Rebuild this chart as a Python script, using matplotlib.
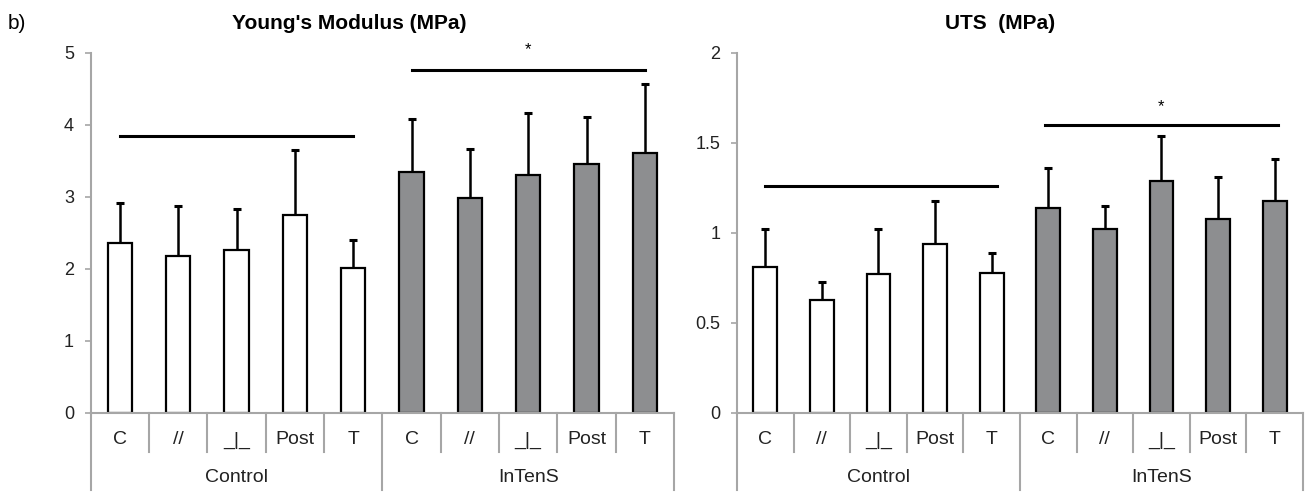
import matplotlib.pyplot as plt
import numpy as np

plt.rcParams['font.family'] = ['Liberation Sans', 'DejaVu Sans']

# data
groups = ['Control', 'InTenS']
cats = ['C', '//', '_|_', 'Post', 'T']

ym_control = [2.36, 2.18, 2.26, 2.75, 2.02]
ym_control_sd = [0.56, 0.70, 0.58, 0.90, 0.38]
ym_intens = [3.35, 2.99, 3.31, 3.46, 3.61]
ym_intens_sd = [0.74, 0.68, 0.85, 0.65, 0.96]

uts_control = [0.81, 0.63, 0.77, 0.94, 0.78]
uts_control_sd = [0.21, 0.10, 0.25, 0.24, 0.11]
uts_intens = [1.14, 1.02, 1.29, 1.08, 1.18]
uts_intens_sd = [0.22, 0.13, 0.25, 0.23, 0.23]

# significance bars: (x start, x end, y)
ym_sig = [(0, 4, 3.85), (5, 9, 4.77)]
ym_star = 5.05
uts_sig = [(0, 4.1, 1.26), (4.95, 9.05, 1.60)]
uts_star = 1.70

grey_fill = '#8d8e90'
axis_grey = '#a6a6a6'


def draw_panel(ax, ctrl, ctrl_sd, intens, intens_sd, sig, star_y, ymax, yticks, ylabels):
    x = np.arange(10)
    vals = ctrl + intens
    sds = ctrl_sd + intens_sd
    colors = ['white'] * 5 + [grey_fill] * 5
    ax.bar(x, vals, width=0.42, color=colors, edgecolor='black', linewidth=1.6, zorder=2)
    eb = ax.errorbar(x, vals, yerr=[np.zeros(10), sds], fmt='none', ecolor='black',
                     elinewidth=1.8, capsize=3, capthick=2.2, zorder=3)
    # only the upper cap
    eb[1][0].set_visible(False)

    for x0, x1, y in sig:
        ax.plot([x0, x1], [y, y], color='black', lw=2.2, clip_on=False, zorder=4)
    x0, x1, y = sig[1]
    ax.text((x0 + x1) / 2, star_y, '*', ha='center', va='center', fontsize=12, clip_on=False)

    ax.set_xlim(-0.5, 9.5)
    ax.set_ylim(0, ymax)
    ax.set_yticks(yticks)
    ax.set_yticklabels(ylabels, fontsize=13, color='#222222')
    ax.tick_params(axis='y', direction='out', length=4, width=1.2, color=axis_grey, pad=8)
    ax.set_xticks([])

    for s in ['top', 'right']:
        ax.spines[s].set_visible(False)
    ax.spines['left'].set_color(axis_grey)
    ax.spines['bottom'].set_color(axis_grey)
    ax.spines['left'].set_linewidth(1.5)
    ax.spines['bottom'].set_linewidth(1.5)

    # multi-level category axis like excel
    trans = ax.get_xaxis_transform()
    for i in range(10):
        ax.text(i, -0.075, cats[i % 5], transform=trans, ha='center', va='center',
                fontsize=14, color='#222222')
    for b in [0.5, 1.5, 2.5, 3.5, 5.5, 6.5, 7.5, 8.5]:
        ax.plot([b, b], [0, -0.108], transform=trans, color=axis_grey, lw=1.5, clip_on=False)
    for b in [-0.5, 4.5, 9.5]:
        ax.plot([b, b], [0, -0.215], transform=trans, color=axis_grey, lw=1.5, clip_on=False)
    for g, name in enumerate(groups):
        ax.text(2 + 5 * g, -0.18, name, transform=trans, ha='center', va='center',
                fontsize=14, color='#222222')


fig = plt.figure(figsize=(13.09, 4.92), dpi=100)
ax1 = fig.add_axes([0.0693, 0.1606, 0.4456, 0.7317])
ax2 = fig.add_axes([0.5630, 0.1606, 0.4324, 0.7317])

draw_panel(ax1, ym_control, ym_control_sd, ym_intens, ym_intens_sd, ym_sig, ym_star,
           5, [0, 1, 2, 3, 4, 5], ['0', '1', '2', '3', '4', '5'])
draw_panel(ax2, uts_control, uts_control_sd, uts_intens, uts_intens_sd, uts_sig, uts_star,
           2, [0, 0.5, 1, 1.5, 2], ['0', '0.5', '1', '1.5', '2'])

fig.text(0.267, 0.953, "Young's Modulus (MPa)", fontsize=15, fontweight='bold',
         ha='center', va='center')
fig.text(0.764, 0.953, 'UTS  (MPa)', fontsize=15, fontweight='bold',
         ha='center', va='center')
fig.text(0.006, 0.953, 'b)', fontsize=15, va='center', ha='left')

fig.savefig('out.png', dpi=100)
